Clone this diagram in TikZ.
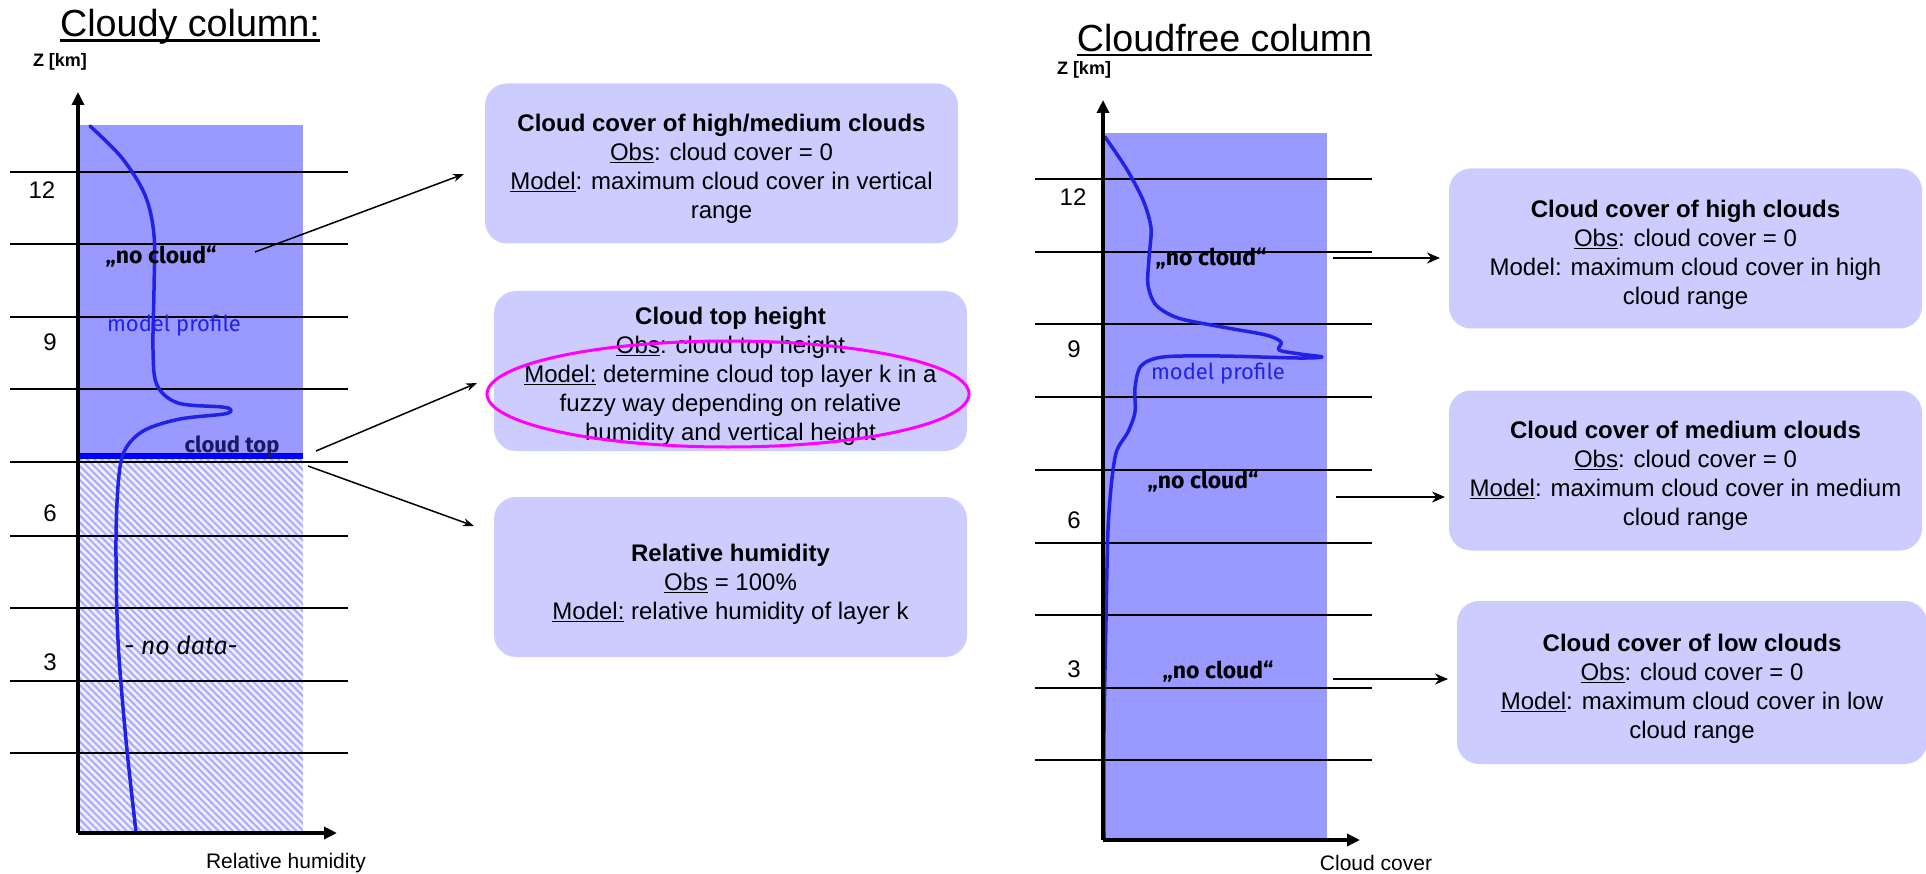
\documentclass[tikz,border=0pt]{standalone}
\usepackage{fontspec}
\setmainfont{Liberation Sans}
\newfontfamily\comic{Fira Sans}
\usetikzlibrary{arrows.meta,patterns.meta}
\definecolor{colblue}{RGB}{153,153,255}
\definecolor{boxfill}{RGB}{204,204,255}
\definecolor{profblue}{RGB}{34,34,230}
\definecolor{hatchblue}{RGB}{170,170,255}
\definecolor{hatchbase}{RGB}{238,238,255}
\definecolor{topblue}{RGB}{0,0,255}
\definecolor{topnavy}{RGB}{25,25,100}
\definecolor{ringmag}{RGB}{255,0,255}
\begin{document}
\begin{tikzpicture}[x=1pt,y=-1pt,
  boxshape/.style={fill=boxfill,rounded corners=22pt,minimum width=473pt,minimum height=160pt,inner sep=0pt},
  boxtext/.style={align=center,inner sep=0pt,font=\fontsize{24}{29}\selectfont},
  gridline/.style={line width=1.3pt,black},
  axisline/.style={line width=4pt,-{Triangle[length=13pt,width=12pt]}},
  conn/.style={line width=1.5pt,-{Stealth[length=11pt,width=8pt]}},
  connr/.style={line width=2.5pt,-{Stealth[length=13pt,width=11pt]}},
  profile/.style={line width=3.5pt,profblue,line cap=round,line join=round},
  ticklab/.style={font=\fontsize{24}{26}\selectfont,inner sep=0pt},
  zlab/.style={font=\bfseries\fontsize{18}{20}\selectfont,inner sep=0pt},
  axlab/.style={font=\fontsize{21}{23}\selectfont,inner sep=0pt},
  titlelab/.style={font=\fontsize{37.7}{40}\selectfont,inner sep=0pt,anchor=base},
  titleline/.style={line width=2.2pt},
  nocloud/.style={font=\comic\bfseries\fontsize{23}{25}\selectfont,inner sep=0pt},
  modlab/.style={font=\comic\fontsize{22}{24}\selectfont,text=profblue,inner sep=0pt}
]
\useasboundingbox (0,0) rectangle (1926,874);

% ---------------- Left: cloudy column ----------------
\fill[colblue] (78,125) rectangle (303,459);
\fill[hatchbase] (78,459) rectangle (303,833);
\fill[pattern={Lines[angle=-45,distance=5pt,line width=2pt]},pattern color=hatchblue] (78,459) rectangle (303,833);
\foreach \yy in {172,244,317,389,462,536,608,681,753}
  \draw[gridline] (10,\yy) -- (348,\yy);
\draw[topblue,line width=6pt] (78,456) -- (303,456);
\draw[profile] plot[smooth,tension=0.55] coordinates {
  (90,126) (122,158) (145,195) (154,235) (154,290) (153,350) (157,385) (178,403)
  (222,407) (231,410) (224,414) (180,419) (145,430) (126,448) (119,475)
  (116,540) (118,640) (126,740) (136,832)};
\coordinate (lo) at (78,833);
\coordinate (ly) at (78,92);
\coordinate (lx) at (337,833);
\draw[axisline] (lo) -- (ly);
\draw[axisline] (lo) -- (lx);

\node[titlelab] (ltitle) at (190,37) {Cloudy column:};
\draw[titleline] ([yshift=-3.5pt]ltitle.base west) -- ([yshift=-3.5pt]ltitle.base east);
\node[zlab] (lz) at (60,62) {Z [km]};
\node[ticklab] (l12) at (42,190) {12};
\node[ticklab] (l9) at (50,342) {9};
\node[ticklab] (l6) at (50,513) {6};
\node[ticklab] (l3) at (50,662) {3};
\node[axlab] (lxl) at (286,863) {Relative humidity};
\node[nocloud] (lnc) at (161,257) {„no cloud“};
\node[modlab] (lmp) at (174,326) {model profile};
\node[nocloud,text=topnavy,font=\comic\bfseries\fontsize{22}{24}\selectfont] (lct) at (232,447) {cloud top};
\node[font=\comic\itshape\fontsize{25}{27}\selectfont,inner sep=0pt] (lnd) at (181,645) {- no data-};

% boxes
\node[boxshape] (b1) at (721.5,163.5) {};
\node[boxtext] (b1t) at (721.5,169) {\textbf{Cloud cover of high/medium clouds}\\\underline{Obs}: cloud cover = 0\\\underline{Model}: maximum cloud cover in vertical\\range};
\node[boxshape] (b2) at (730.5,371) {};
\node[boxtext] (b2t) at (730.5,376) {\textbf{Cloud top height}\\\underline{Obs}: cloud top height\\\underline{Model:} determine cloud top layer k in a\\fuzzy way depending on relative\\humidity and vertical height};
\node[boxshape] (b3) at (730.5,577) {};
\node[boxtext] (b3t) at (730.5,584) {\textbf{Relative humidity}\\\underline{Obs} = 100\%\\\underline{Model:} relative humidity of layer k};
\draw[ringmag,line width=3pt] (728,394) ellipse [x radius=241, y radius=53];

\coordinate (a1s) at (255,252);
\coordinate (a1e) at (464,174);
\coordinate (a2s) at (316,451);
\coordinate (a2e) at (477,383);
\coordinate (a3s) at (308,466);
\coordinate (a3e) at (474,526);
\draw[conn] (a1s) -- (a1e);
\draw[conn] (a2s) -- (a2e);
\draw[conn] (a3s) -- (a3e);

% ---------------- Right: cloudfree column ----------------
\fill[colblue] (1103,133) rectangle (1327,840);
\foreach \yy in {179,252,324,397,470,543,615,688,760}
  \draw[gridline] (1035,\yy) -- (1372,\yy);
\draw[profile] plot[smooth,tension=0.5] coordinates {
  (1105,137) (1126,168) (1143,200) (1151,228) (1149,258) (1148,285) (1156,305)
  (1178,318) (1222,327) (1266,335) (1281,342) (1279,350) (1300,354) (1322,357)
  (1298,358) (1220,356) (1163,357) (1141,366) (1135,388) (1135,412) (1128,432)
  (1117,450) (1112,478) (1108,530) (1106,620) (1104,730) (1104,838)};
\coordinate (ro) at (1103,840);
\coordinate (ry) at (1103,100);
\coordinate (rx) at (1360,840);
\draw[axisline] (ro) -- (ry);
\draw[axisline] (ro) -- (rx);

\node[titlelab] (rtitle) at (1224.5,52) {Cloudfree column};
\draw[titleline] ([yshift=-3pt]rtitle.base west) -- ([yshift=-3pt]rtitle.base east);
\node[zlab] (rz) at (1084,70) {Z [km]};
\node[ticklab] (r12) at (1073,197) {12};
\node[ticklab] (r9) at (1074,349) {9};
\node[ticklab] (r6) at (1074,520) {6};
\node[ticklab] (r3) at (1074,669) {3};
\node[axlab] (rxl) at (1376,863) {Cloud cover};
\node[nocloud] (rnc1) at (1211,259) {„no cloud“};
\node[nocloud] (rnc2) at (1203,482) {„no cloud“};
\node[nocloud] (rnc3) at (1218,672) {„no cloud“};
\node[modlab] (rmp) at (1218,374) {model profile};

\node[boxshape] (rb1) at (1685.5,248.5) {};
\node[boxtext] (rb1t) at (1685.5,255) {\textbf{Cloud cover of high clouds}\\\underline{Obs}: cloud cover = 0\\Model: maximum cloud cover in high\\cloud range};
\node[boxshape] (rb2) at (1685.5,470.5) {};
\node[boxtext] (rb2t) at (1685.5,476) {\textbf{Cloud cover of medium clouds}\\\underline{Obs}: cloud cover = 0\\\underline{Model}: maximum cloud cover in medium\\cloud range};
\node[boxshape,minimum width=470pt,minimum height=163pt] (rb3) at (1692,682.5) {};
\node[boxtext] (rb3t) at (1692,689) {\textbf{Cloud cover of low clouds}\\\underline{Obs}: cloud cover = 0\\\underline{Model}: maximum cloud cover in low\\cloud range};

\coordinate (r1s) at (1333,258);
\coordinate (r1e) at (1440,258);
\coordinate (r2s) at (1336,497);
\coordinate (r2e) at (1445,497);
\coordinate (r3s) at (1333,679);
\coordinate (r3e) at (1448,679);
\draw[connr] (r1s) -- (r1e);
\draw[connr] (r2s) -- (r2e);
\draw[connr] (r3s) -- (r3e);
\end{tikzpicture}
\end{document}
